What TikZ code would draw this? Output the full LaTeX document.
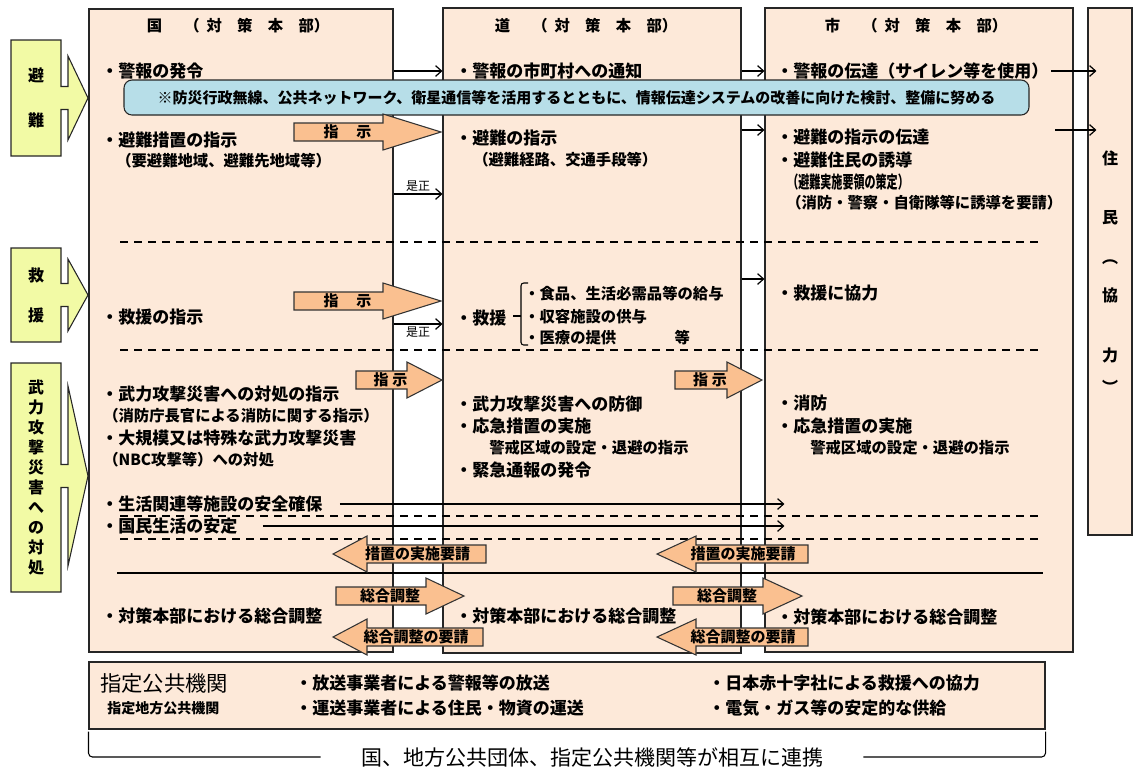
\documentclass[tikz,border=0pt]{standalone}
\usepackage{fontspec}
\setmainfont{Noto Sans CJK JP}
\usetikzlibrary{arrows.meta,fit}

\definecolor{peach}{RGB}{253,233,217}
\definecolor{lemon}{RGB}{242,250,165}
\definecolor{apricot}{RGB}{250,192,144}
\definecolor{skyband}{RGB}{183,222,232}

\tikzset{
  colbox/.style={draw=black!85, fill=peach, line width=0.8pt, inner sep=0pt},
  item/.style={anchor=west, inner sep=0pt, font=\bfseries\fontsize{12.75}{15}\selectfont},
  subitem/.style={anchor=west, inner sep=0pt, font=\bfseries\fontsize{11.5}{14}\selectfont},
  head/.style={inner sep=0pt, font=\bfseries\fontsize{11.5}{13}\selectfont},
  link/.style={-{Straight Barb[length=4.5pt,width=8pt]}, line width=0.9pt},
  sep/.style={dash pattern=on 6pt off 4.5pt, line width=1.1pt},
  block/.style={draw=black!80, fill=apricot, line width=0.8pt},
  blocklabel/.style={inner sep=0pt, font=\bfseries\fontsize{11.25}{13}\selectfont},
  tab/.style={draw=black!85, fill=lemon, line width=0.8pt},
  tabtext/.style={align=center, inner sep=0pt, font=\bfseries\fontsize{12}{#1}\selectfont},
  zesei/.style={inner sep=1.5pt, font=\fontsize{9}{10}\selectfont},
  bracket/.style={line width=0.8pt, rounded corners=3pt},
}

% block arrow: name, shaft end, head base, tip, y, text
\newcommand{\flowblock}[6]{%
  \draw[block] (#2,#5-9) -- (#3,#5-9) -- (#3,#5-18) -- (#4,#5) -- (#3,#5+18)
    -- (#3,#5+9) -- (#2,#5+9) -- cycle;
  \node[blocklabel] (#1) at ({(#2+#3)/2+9*sign(#4-#3)},#5) {#6};}

% yellow side tab: name, top, bottom, tip y, head half height
\newcommand{\sidetab}[5]{%
  \draw[tab] (11,#2) -- (61,#2) -- (61,#4-11.5) -- (68,#4-11.5) -- (68,#4-#5)
    -- (88,#4) -- (68,#4+#5) -- (68,#4+11.5) -- (61,#4+11.5) -- (61,#3)
    -- (11,#3) -- cycle;
  \coordinate (#1) at (36,{(#2+#3)/2});}

\begin{document}
\begin{tikzpicture}[x=0.75pt, y=-0.75pt]
  \useasboundingbox (0,0) rectangle (1134,769);

  % columns
  \node[colbox, fit={(89,9) (393,652)}] (kuni) {};
  \node[colbox, fit={(443,8) (741,653)}] (michi) {};
  \node[colbox, fit={(765,8) (1073,652)}] (shi) {};
  \node[colbox, fit={(1088,8) (1132,535)}] (jumin) {};
  \node[colbox, fit={(89,662) (1045,729)}] (kikan) {};

  \node[head] (kuni-head) at (238,26) {国\hspace{1.45em}（\hspace{.45em}対\hspace{1em}策\hspace{1em}本\hspace{1em}部）};
  \node[head] (michi-head) at (586,26) {道\hspace{1.45em}（\hspace{.45em}対\hspace{1em}策\hspace{1em}本\hspace{1em}部）};
  \node[head] (shi-head) at (916,26) {市\hspace{1.45em}（\hspace{.45em}対\hspace{1em}策\hspace{1em}本\hspace{1em}部）};

  % side tabs
  \sidetab{tab-hinan}{40}{156}{98}{42}
  \sidetab{tab-kyuen}{248}{342}{295}{36}
  \sidetab{tab-buryoku}{363}{592}{476}{90}
  \node[tabtext=33.75pt] at (tab-hinan) {避\\難};
  \node[tabtext=30pt] at (tab-kyuen) {救\\援};
  \node[tabtext=15pt] at (tab-buryoku) {武\\力\\攻\\撃\\災\\害\\へ\\の\\対\\処};

  % separators
  \draw[sep] (120,242) -- (1043,242);
  \draw[sep] (120,350) -- (1043,350);
  \draw[sep] (120,516) -- (1043,516);
  \draw[sep] (120,539) -- (1043,539);
  \draw[line width=0.8pt] (117,573) -- (1043,573);

  % kuni
  \node[item] (k-keiho) at (101,71) {・警報の発令};
  \node[item] (k-hinan) at (101,140) {・避難措置の指示};
  \node[subitem] (k-hinan2) at (116,161) {（要避難地域、避難先地域等）};
  \node[item] (k-kyuen) at (101,317) {・救援の指示};
  \node[item] (k-buryoku) at (101,394) {・武力攻撃災害への対処の指示};
  \node[subitem] (k-buryoku2) at (103,416) {（消防庁長官による消防に関する指示）};
  \node[item] (k-nbc) at (101,438) {・大規模又は特殊な武力攻撃災害};
  \node[subitem] (k-nbc2) at (103,460) {（NBC攻撃等）への対処};
  \node[item] (k-seikatsu) at (101,504) {・生活関連等施設の安全確保};
  \node[item] (k-kokumin) at (101,526) {・国民生活の安定};
  \node[item] (k-chosei) at (101,616) {・対策本部における総合調整};

  % michi
  \node[item] (m-keiho) at (455,71) {・警報の市町村への通知};
  \node[item] (m-hinan) at (455,138) {・避難の指示};
  \node[subitem] (m-hinan2) at (473,160) {（避難経路、交通手段等）};
  \node[item] (m-kyuen) at (455,318) {・救援};
  \draw[line width=0.8pt, rounded corners=2pt] (528,283) -- (521,283) -- (521,345) -- (528,345);
  \draw[line width=0.8pt] (521,316) -- (513,316);
  \node[subitem] (m-kyuen1) at (524,294) {・食品、生活必需品等の給与};
  \node[subitem] (m-kyuen2) at (524,317) {・収容施設の供与};
  \node[subitem] (m-kyuen3) at (524,338) {・医療の提供\hspace{3.8em}等};
  \node[item] (m-bogyo) at (455,404) {・武力攻撃災害への防御};
  \node[item] (m-okyu) at (455,426) {・応急措置の実施};
  \node[subitem] (m-keikai) at (489,448) {警戒区域の設定・退避の指示};
  \node[item] (m-tsuho) at (455,470) {・緊急通報の発令};
  \node[item] (m-chosei) at (455,616) {・対策本部における総合調整};

  % shi
  \node[item] (s-keiho) at (776,71) {・警報の伝達（サイレン等を使用）};
  \node[item] (s-hinan) at (776,137) {・避難の指示の伝達};
  \node[item] (s-yudo) at (776,160) {・避難住民の誘導};
  \node[item] (s-yudo2) at (787,182) {\scalebox{0.65}[1]{（避難実施要領の策定）}};
  \node[subitem] (s-yudo3) at (786,203) {（消防・警察・自衛隊等に誘導を要請）};
  \node[item] (s-kyuen) at (776,293) {・救援に協力};
  \node[item] (s-shobo) at (776,403) {・消防};
  \node[item] (s-okyu) at (776,426) {・応急措置の実施};
  \node[subitem] (s-keikai) at (810,448) {警戒区域の設定・退避の指示};
  \node[item] (s-chosei) at (776,617) {・対策本部における総合調整};

  % jumin
  \foreach \c/\yy in {住/158, 民/218, ︵/262, 協/295, 力/355, ︶/387}
    \node[tabtext=15pt] (j\yy) at (1110,\yy) {\c};

  % thin arrows
  \draw[link] (kuni.east |- k-keiho) -- (michi.west |- k-keiho);
  \draw[link] (michi.east |- m-keiho) -- (shi.west |- m-keiho);
  \draw[link] ([xshift=2pt]s-keiho.east) -- ([xshift=6.75pt]jumin.west |- s-keiho);
  \draw[link] (michi.east |- 0,130) -- (shi.west |- 0,130);
  \draw[link] (1055,130) -- ([xshift=6.75pt]jumin.west |- 0,130);
  \draw[link] (kuni.east |- 0,194) -- (michi.west |- 0,194)
    node[midway, above, zesei] {是正};
  \draw[link] (michi.east |- 0,279) -- (shi.west |- 0,279);
  \draw[link] (kuni.east |- 0,324) -- (michi.west |- 0,324)
    node[midway, below, zesei] {是正};
  \draw[link] ([xshift=13pt]k-seikatsu.east) -- ([xshift=15pt]shi.west |- k-seikatsu);
  \draw[link] ([xshift=19pt]k-kokumin.east) -- ([xshift=15pt]shi.west |- k-kokumin);

  % banner
  \node[draw=black!85, fill=skyband, line width=0.8pt, rounded corners=6pt,
    minimum width=678.75pt, minimum height=26.25pt, inner sep=0pt,
    font=\bfseries\fontsize{11.25}{13}\selectfont] (band) at (576.5,97.5)
    {※防災行政無線、公共ネットワーク、衛星通信等を活用するとともに、情報伝達システムの改善に向けた検討、整備に努める};

  % block arrows
  \flowblock{shiji-a}{294}{383}{441}{132}{指\hspace{1.2em}示}
  \flowblock{shiji-b}{294}{383}{441}{301}{指\hspace{1.2em}示}
  \flowblock{shiji-c}{356}{407}{442}{380}{指\hspace{.25em}示}
  \flowblock{shiji-d}{675}{727}{762}{380}{指\hspace{.25em}示}
  \flowblock{yosei-a}{486}{367}{333}{554}{措置の実施要請}
  \flowblock{yosei-b}{808}{696}{657}{554}{措置の実施要請}
  \flowblock{chosei-a}{336}{426}{464}{596}{総合調整}
  \flowblock{chosei-b}{673}{763}{802}{596}{総合調整}
  \flowblock{chyosei-a}{483}{367}{333}{637}{総合調整の要請}
  \flowblock{chyosei-b}{808}{696}{657}{637}{総合調整の要請}

  % designated public institutions
  \node[anchor=west, inner sep=0pt, font=\fontsize{16}{18}\selectfont] (kikan-title) at (100,683) {指定公共機関};
  \node[anchor=west, inner sep=0pt, font=\bfseries\fontsize{10.5}{12}\selectfont] (kikan-sub) at (107,708) {指定地方公共機関};
  \node[item] (kikan-a) at (295,683) {・放送事業者による警報等の放送};
  \node[item] (kikan-b) at (295,708) {・運送事業者による住民・物資の運送};
  \node[item] (kikan-c) at (708,683) {・日本赤十字社による救援への協力};
  \node[item] (kikan-d) at (708,708) {・電気・ガス等の安定的な供給};

  \node[inner sep=0pt, font=\fontsize{15.75}{18}\selectfont] (renkei) at (592,757) {国、地方公共団体、指定公共機関等が相互に連携};
  \draw[bracket] ([yshift=-1.5pt]kikan.south west) |- ([xshift=-30pt]renkei.west);
  \draw[bracket] ([xshift=30pt]renkei.east) -| ([yshift=-1.5pt]kikan.south east);
\end{tikzpicture}
\end{document}
